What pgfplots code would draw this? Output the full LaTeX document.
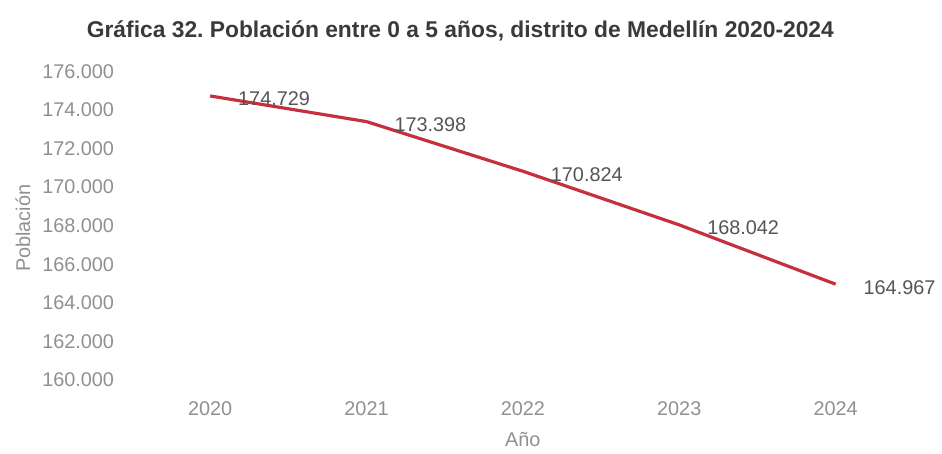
\documentclass[border=0pt]{standalone}
\usepackage{pgfplots}
\pgfplotsset{compat=1.18}
\usepackage{fontspec}
\setmainfont{Liberation Sans}
\frenchspacing
\definecolor{linered}{HTML}{C5303C}
\definecolor{ticgray}{HTML}{909090}
\definecolor{labgray}{HTML}{555555}
\definecolor{titgray}{HTML}{3A3A3A}
\begin{document}
\begin{tikzpicture}
\begin{axis}[
  scale only axis,
  width=394pt, height=155.5pt,
  at={(0,0)}, anchor=south west,
  xmin=-0.5, xmax=4.5,
  ymin=160000, ymax=176000,
  scaled y ticks=false,
  xtick={0,1,2,3,4},
  xticklabels={2020,2021,2022,2023,2024},
  ytick={160000,162000,164000,166000,168000,170000,172000,174000,176000},
  yticklabels={160.000,162.000,164.000,166.000,168.000,170.000,172.000,174.000,176.000},
  axis line style={draw=none},
  tick style={draw=none},
  tick label style={font=\fontsize{10}{12}\selectfont, text=ticgray},
  xticklabel style={anchor=center, yshift=-14.5pt},
  yticklabel style={anchor=east, xshift=-5.5pt},
  clip=false,
]
\addplot[linered, line width=1.6pt,
  point meta=explicit symbolic,
  nodes near coords,
  every node near coord/.append style={anchor=west, xshift=10pt, yshift=-1.5pt,
    font=\fontsize{10}{12}\selectfont, text=labgray},
] coordinates {
  (0,174729) [174.729]
  (1,173398) [173.398]
  (2,170824) [170.824]
  (3,168042) [168.042]
  (4,164967) [164.967]
};
\end{axis}
\node[font=\bfseries\fontsize{11.5}{13}\selectfont, text=titgray] at (165.5pt,176pt)
  {Gráfica 32. Población entre 0 a 5 años, distrito de Medellín 2020-2024};
\node[rotate=90, font=\fontsize{10}{12}\selectfont, text=ticgray] at (-55pt,76.5pt) {Población};
\node[font=\fontsize{10}{12}\selectfont, text=ticgray] at (197pt,-30pt) {Año};
\useasboundingbox (-66.5pt,-35pt) rectangle (404.5pt,191.5pt);
\end{tikzpicture}
\end{document}
